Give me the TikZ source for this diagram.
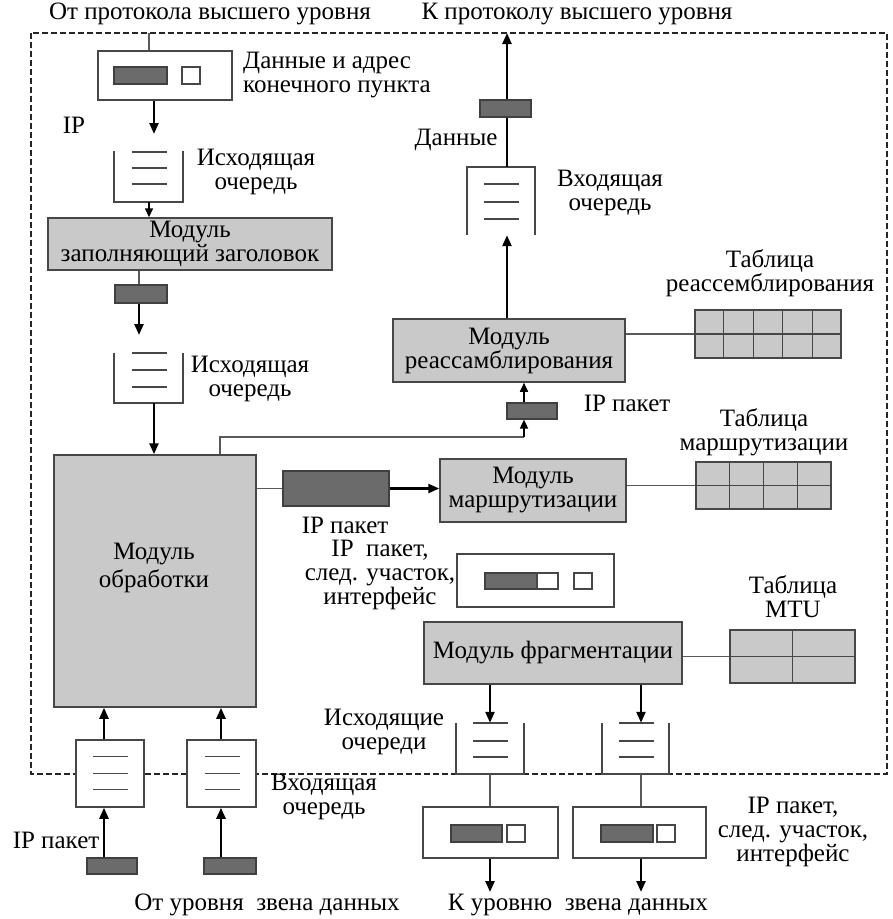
\documentclass[tikz,border=0pt]{standalone}
\usepackage{fontspec}
\setmainfont{Liberation Serif}
\usetikzlibrary{arrows.meta,calc}
\definecolor{modfill}{gray}{0.79}
\definecolor{pktfill}{gray}{0.42}
\definecolor{edge}{gray}{0.28}
\definecolor{thinline}{gray}{0.35}
\newcommand\fs{\fontsize{25}{24}\selectfont}
% node from its corner coordinates: style, name, x1, y1, x2, y2, text
\newcommand\mkbox[7]{%
  \pgfmathsetmacro\mbw{#5-#3}\pgfmathsetmacro\mbh{#6-#4}%
  \pgfmathsetmacro\mbx{(#3+#5)/2}\pgfmathsetmacro\mby{(#4+#6)/2}%
  \node[#1, minimum width=\mbw pt, minimum height=\mbh pt] (#2) at (\mbx,\mby) {#7};}
% three short bars inside a queue, offsets measured from its top edge
\newcommand\qbars[4]{%
  \foreach \o in {#2,#3,#4} \draw[qline] ($(#1.north)+(-17,\o)$) -- ++(35,0);}
% grid lines of a two-row table with the given number of columns
\newcommand\tgrid[2]{%
  \draw[tbline] (#1.west) -- (#1.east);
  \pgfmathtruncatemacro\tgn{#2-1}%
  \foreach \k in {1,...,\tgn} {%
    \pgfmathsetmacro\fr{\k/#2}%
    \draw[tbline] ($(#1.north west)!\fr!(#1.north east)$) -- ($(#1.south west)!\fr!(#1.south east)$);}}
\begin{document}
\begin{tikzpicture}[x=1pt,y=-1pt,
  every node/.style={font=\fs},
  txt/.style={align=center, inner sep=0pt},
  border/.style={draw=black!85, line width=1.6pt, dash pattern=on 6pt off 3pt},
  module/.style={draw=edge, fill=modfill, line width=1.5pt, inner sep=0pt, align=center},
  frame/.style={draw=edge, fill=white, line width=1.5pt, inner sep=0pt},
  pkt/.style={draw=black!75, fill=pktfill, line width=1.2pt, inner sep=0pt},
  slot/.style={draw=edge, fill=white, line width=1.2pt, inner sep=0pt},
  tbl/.style={draw=edge, fill=modfill, line width=1.3pt, inner sep=0pt},
  tbline/.style={draw=edge, line width=1.3pt},
  qspace/.style={inner sep=0pt},
  qclosed/.style={draw=edge, fill=white, line width=1.5pt, inner sep=0pt},
  qwall/.style={draw=edge, line width=1.5pt},
  qline/.style={draw=edge, line width=1.4pt},
  link/.style={draw=thinline, line width=1.3pt},
  flow/.style={draw=black, line width=2.4pt, -{Triangle[length=11pt,width=9pt]}},
  flowsmall/.style={draw=black, line width=1.6pt, -{Triangle[length=9pt,width=8pt]}}]

\fill[white] (0,0) rectangle (893,919);
\useasboundingbox (0,0) rectangle (893,919);

% outer dashed boundary of the IP layer
\draw[border] (31,33) rectangle (887,774);
\coordinate (inTop) at (149,33);
\coordinate (outTop) at (507,33);

% headings
\node[txt] (hdIn) at (210,14) {От протокола высшего уровня};
\node[txt] (hdOut) at (577,14) {К протоколу высшего уровня};
\node[txt] (hdLinkIn) at (267,905) {От уровня\ \ звена данных};
\node[txt] (hdLinkOut) at (578,905) {К уровню\ \ звена данных};

% ---------- outgoing path (left column) ----------
\mkbox{frame}{dbox}{98}{51}{232}{100}{}
\mkbox{pkt}{dboxP}{114}{67}{167}{84}{}
\mkbox{slot}{dboxA}{182}{67}{200}{84}{}
\node[txt, anchor=west, align=left] (dboxLbl) at (243,75) {Данные и адрес\\конечного пункта};
\draw[link] (inTop) -- (149,0 |- dbox.north);

\coordinate (ipEnd) at (154,134);
\draw[flow] (154,0 |- dbox.south) -- (ipEnd);
\node[txt] (ipLbl) at (74,125) {IP};

\mkbox{qspace}{q1}{114}{151}{183}{202}{}
\draw[qwall] (q1.north west) -- (q1.south west) -- (q1.south east) -- (q1.north east);
\qbars{q1}{1}{17}{33}
\node[txt] (q1Lbl) at (256,172) {Исходящая\\очередь};

\mkbox{module}{hdr}{48}{218}{332}{270}{Модуль\\заполняющий заголовок}
\draw[flowsmall] (149,0 |- q1.south) -- (149,0 |- hdr.north);

\mkbox{pkt}{hdrP}{115}{285}{167}{303}{}
\draw[link] (139,0 |- hdr.south) -- (139,0 |- hdrP.north);
\coordinate (hdrEnd) at (139,335);
\draw[flow] (139,0 |- hdrP.south) -- (hdrEnd);

\mkbox{qspace}{q2}{114}{353}{183}{403}{}
\draw[qwall] (q2.north west) -- (q2.south west) -- (q2.south east) -- (q2.north east);
\qbars{q2}{0}{17}{34}
\node[txt] (q2Lbl) at (250,379) {Исходящая\\очередь};

% processing module
\mkbox{module}{proc}{54}{455}{256}{707}{}
\node[txt, font=\fontsize{25}{28}\selectfont] (procLbl) at (154,568) {Модуль\\обработки};
\draw[flow] (154,0 |- q2.south) -- (154,0 |- proc.north);

% ---------- incoming queues from the link layer ----------
\mkbox{qclosed}{qC}{76}{740}{144}{807}{}
\qbars{qC}{17}{34}{50}
\mkbox{qclosed}{qD}{187}{740}{256}{807}{}
\qbars{qD}{17}{34}{50}
\node[txt] (qCDLbl) at (324,797) {Входящая\\очередь};
\draw[flow] (104,0 |- qC.north) -- (104,0 |- proc.south);
\draw[flow] (221,0 |- qD.north) -- (221,0 |- proc.south);

\mkbox{pkt}{pkC}{87}{858}{137}{874}{}
\mkbox{pkt}{pkD}{204}{858}{256}{874}{}
\draw[flow] (104,0 |- pkC.north) -- (104,0 |- qC.south);
\draw[flow] (221,0 |- pkD.north) -- (221,0 |- qD.south);
\node[txt] (pkCLbl) at (56,840) {IP пакет};

% ---------- delivery path (upper right) ----------
\mkbox{pkt}{upP}{507}{403}{557}{419}{}
\node[txt] (upPLbl) at (627,403) {IP пакет};
\coordinate (upBend) at (220,437);
\draw[link] (220,0 |- proc.north) -- (upBend) -- (524,437);
\draw[flowsmall] (524,437) -- (524,0 |- upP.south);

\mkbox{module}{reasm}{393}{319}{625}{382}{Модуль\\реассамблирования}
\draw[flowsmall] (524,0 |- upP.north) -- (524,0 |- reasm.south);

\mkbox{tbl}{rtab}{695}{310}{841}{358}{}
\tgrid{rtab}{5}
\node[txt] (rtabLbl) at (770,273) {Таблица\\реассемблирования};
\draw[link] (reasm.east |- rtab.west) -- (rtab.west);

\mkbox{qspace}{q3}{467}{167}{535}{235}{}
\draw[qwall] (q3.south west) -- (q3.north west) -- (q3.north east) -- (q3.south east);
\qbars{q3}{17}{35}{52}
\node[txt] (q3Lbl) at (610,193) {Входящая\\очередь};
\draw[flow] (507,0 |- reasm.north) -- (507,0 |- q3.south);

\mkbox{pkt}{dataP}{480}{100}{531}{117}{}
\draw[link, line width=2.4pt, draw=black] (507,0 |- q3.north) -- (507,0 |- dataP.south);
\draw[flow] (507,0 |- dataP.north) -- (outTop);
\node[txt] (dataLbl) at (456,140) {Данные};

% ---------- routing ----------
\mkbox{pkt}{rtP}{283}{471}{389}{506}{}
\node[txt] (rtPLbl) at (345,525) {IP пакет};
\draw[link] (proc.east |- rtP.west) -- (rtP.west);

\mkbox{module}{route}{440}{459}{626}{522}{Модуль\\маршрутизации}
\draw[flow] (rtP.east) -- (route.west |- rtP.east);

\mkbox{tbl}{rttab}{696}{462}{831}{509}{}
\tgrid{rttab}{4}
\node[txt] (rttabLbl) at (764,432) {Таблица\\маршрутизации};
\draw[link] (route.east |- rttab.west) -- (rttab.west);

% routed packet with next hop and interface
\node[txt] (nhLbl) at (380,575) {IP\ \ пакет,\\след. участок,\\интерфейс};
\mkbox{frame}{nh}{457}{554}{614}{607}{}
\mkbox{pkt}{nhP}{485}{573}{537}{589}{}
\mkbox{slot}{nhA}{537}{573}{558}{589}{}
\mkbox{slot}{nhB}{574}{573}{592}{589}{}

% ---------- fragmentation ----------
\mkbox{module}{frag}{424}{622}{682}{684}{Модуль фрагментации}
\mkbox{tbl}{mtu}{730}{630}{855}{683}{}
\tgrid{mtu}{2}
\node[txt] (mtuLbl) at (793,597) {Таблица\\MTU};
\draw[link] (frag.east |- mtu.west) -- (mtu.west);

\mkbox{qspace}{qA}{456}{723}{524}{774}{}
\draw[qwall] (qA.north west) -- (qA.south west) -- (qA.south east) -- (qA.north east);
\qbars{qA}{0}{18}{34}
\mkbox{qspace}{qB}{602}{723}{669}{774}{}
\draw[qwall] (qB.north west) -- (qB.south west) -- (qB.south east) -- (qB.north east);
\qbars{qB}{0}{18}{34}
\node[txt] (qABLbl) at (384,732) {Исходящие\\очереди};
\draw[flow] (490,0 |- frag.south) -- (490,0 |- qA.north);
\draw[flow] (641,0 |- frag.south) -- (641,0 |- qB.north);

\mkbox{frame}{oA}{423}{807}{558}{858}{}
\mkbox{pkt}{oAP}{451}{825}{502}{842}{}
\mkbox{slot}{oAA}{507}{825}{525}{842}{}
\mkbox{frame}{oB}{573}{807}{706}{858}{}
\mkbox{pkt}{oBP}{601}{825}{653}{842}{}
\mkbox{slot}{oBA}{657}{825}{675}{842}{}
\draw[link] (490,0 |- qA.south) -- (490,0 |- oA.north);
\draw[link] (641,0 |- qB.south) -- (641,0 |- oB.north);
\coordinate (oAEnd) at (490,892);
\coordinate (oBEnd) at (641,892);
\draw[flow] (490,0 |- oA.south) -- (oAEnd);
\draw[flow] (641,0 |- oB.south) -- (oBEnd);
\node[txt] (oLbl) at (793,832) {IP пакет,\\след. участок,\\интерфейс};

\end{tikzpicture}
\end{document}
